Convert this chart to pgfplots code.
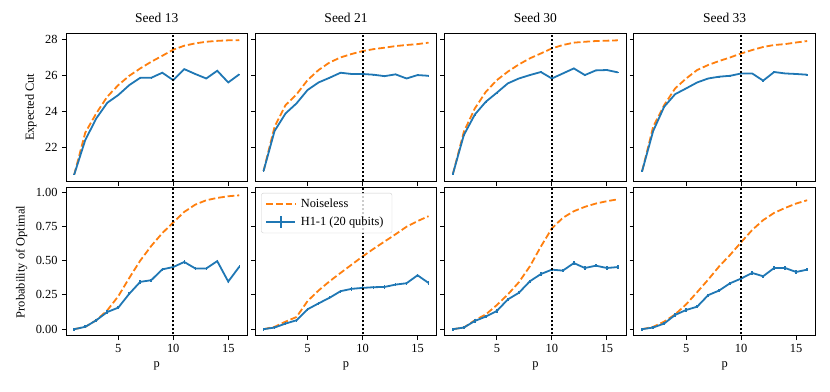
\documentclass[border=0pt]{standalone}
\usepackage{pgfplots}
\pgfplotsset{compat=1.18}
\usepackage{pgfplotstable}
\usepgfplotslibrary{groupplots}
\usepackage{fontspec}
\setmainfont{Liberation Serif}

\definecolor{mblue}{HTML}{1F77B4}
\definecolor{morange}{HTML}{FF7F0E}

% columns: p, noiseless cut, H1-1 cut, noiseless prob, H1-1 prob
\pgfplotstableread{
p cutN cutH probN probH
1 20.48 20.48 0.000 0.000
2 22.80 22.39 0.017 0.017
3 23.87 23.59 0.065 0.065
4 24.80 24.46 0.137 0.125
5 25.44 24.89 0.240 0.157
6 25.96 25.44 0.373 0.258
7 26.37 25.85 0.500 0.345
8 26.74 25.85 0.607 0.357
9 27.07 26.13 0.700 0.436
10 27.41 25.72 0.778 0.453
11 27.63 26.33 0.855 0.490
12 27.76 26.06 0.908 0.443
13 27.85 25.81 0.940 0.443
14 27.90 26.24 0.957 0.496
15 27.93 25.59 0.969 0.347
16 27.94 26.04 0.976 0.455
}\seedA

\pgfplotstableread{
p cutN cutH probN probH
1 20.67 20.67 0.000 0.000
2 23.13 22.89 0.017 0.012
3 24.33 23.87 0.055 0.041
4 24.93 24.43 0.089 0.065
5 25.72 25.17 0.205 0.145
6 26.28 25.59 0.282 0.188
7 26.70 25.85 0.349 0.229
8 26.98 26.13 0.410 0.277
9 27.17 26.06 0.470 0.294
10 27.33 26.06 0.530 0.301
11 27.44 26.02 0.586 0.306
12 27.52 25.94 0.639 0.308
13 27.61 26.04 0.692 0.325
14 27.67 25.81 0.747 0.335
15 27.72 26.00 0.788 0.393
16 27.80 25.96 0.824 0.337
}\seedB

\pgfplotstableread{
p cutN cutH probN probH
1 20.50 20.50 0.000 0.000
2 22.85 22.67 0.012 0.012
3 24.15 23.81 0.065 0.060
4 25.07 24.52 0.108 0.092
5 25.72 25.02 0.176 0.133
6 26.19 25.54 0.253 0.217
7 26.59 25.81 0.342 0.265
8 26.93 26.00 0.458 0.349
9 27.20 26.17 0.602 0.402
10 27.48 25.81 0.735 0.434
11 27.67 26.09 0.812 0.427
12 27.80 26.37 0.860 0.482
13 27.85 26.00 0.892 0.446
14 27.89 26.26 0.916 0.463
15 27.91 26.28 0.933 0.446
16 27.93 26.15 0.947 0.453
}\seedC

\pgfplotstableread{
p cutN cutH probN probH
1 20.67 20.67 0.000 0.000
2 23.13 22.89 0.017 0.012
3 24.33 24.24 0.055 0.041
4 25.26 24.94 0.108 0.104
5 25.81 25.26 0.181 0.140
6 26.28 25.59 0.270 0.164
7 26.56 25.81 0.361 0.248
8 26.78 25.91 0.458 0.282
9 26.98 25.96 0.542 0.335
10 27.20 26.09 0.634 0.369
11 27.39 26.09 0.723 0.410
12 27.56 25.69 0.795 0.386
13 27.67 26.17 0.848 0.446
14 27.72 26.09 0.884 0.446
15 27.81 26.06 0.916 0.417
16 27.89 26.02 0.940 0.434
}\seedD

\pgfplotsset{
  noisy/.style={mblue, line width=1.8pt,
    error bars/y dir=both, error bars/y fixed=#1,
    error bars/error mark=none,
    error bars/error bar style={line width=1.5pt}},
  ideal/.style={morange, line width=1.8pt, dash pattern=on 6.7pt off 2.9pt},
  vline/.style={black, line width=2pt, dash pattern=on 2pt off 2pt, forget plot},
  toprow/.style={ymin=20.1, ymax=28.32, ytick={22,24,26,28}},
  botrow/.style={ymin=-0.049, ymax=1.03, ytick={0,0.25,0.5,0.75,1},
    yticklabel style={/pgf/number format/.cd, fixed, fixed zerofill, precision=2}},
}

\begin{document}
\fontsize{12.4}{15}\selectfont
\begin{tikzpicture}
\begin{groupplot}[
    group style={group size=4 by 2, horizontal sep=7.8pt, vertical sep=6.6pt,
      xticklabels at=edge bottom, yticklabels at=edge left},
    scale only axis, width=181.5pt, height=148pt,
    xmin=0.25, xmax=16.75, xtick={5,10,15},
    tick pos=left, tick align=outside, major tick length=4.2pt,
    axis line style={line width=0.9pt},
    every tick/.style={black, line width=0.9pt},
    /pgf/number format/assume math mode=true,
    every axis label/.append style={font=\fontsize{12.4}{15}\selectfont},
    every tick label/.append style={font=\fontsize{12.4}{15}\selectfont},
    title style={font=\fontsize{13.5}{16}\selectfont},
    legend image code/.code={\draw[#1] (0pt,0pt) -- (29pt,0pt);},
]
\nextgroupplot[toprow, title={Seed 13}, ylabel={Expected Cut}]
\addplot[ideal] table[x=p, y=cutN]{\seedA};
\addplot[noisy=0.03] table[x=p, y=cutH]{\seedA};
\addplot[vline] coordinates {(10,19) (10,30)};

\nextgroupplot[toprow, title={Seed 21}]
\addplot[ideal] table[x=p, y=cutN]{\seedB};
\addplot[noisy=0.03] table[x=p, y=cutH]{\seedB};
\addplot[vline] coordinates {(10,19) (10,30)};

\nextgroupplot[toprow, title={Seed 30}]
\addplot[ideal] table[x=p, y=cutN]{\seedC};
\addplot[noisy=0.03] table[x=p, y=cutH]{\seedC};
\addplot[vline] coordinates {(10,19) (10,30)};

\nextgroupplot[toprow, title={Seed 33}]
\addplot[ideal] table[x=p, y=cutN]{\seedD};
\addplot[noisy=0.03] table[x=p, y=cutH]{\seedD};
\addplot[vline] coordinates {(10,19) (10,30)};

\nextgroupplot[botrow, xlabel={p}, ylabel={Probability of Optimal}]
\addplot[ideal] table[x=p, y=probN]{\seedA};
\addplot[noisy=0.012] table[x=p, y=probH]{\seedA};
\addplot[vline] coordinates {(10,-1) (10,2)};

\nextgroupplot[botrow, xlabel={p},
    legend style={at={(0,1)}, anchor=north west, xshift=6pt, yshift=-5pt,
      draw=black!20, rounded corners=2pt, fill=white, fill opacity=0.8,
      text opacity=1, row sep=3pt, inner xsep=4pt, inner ysep=4pt,
      nodes={font=\fontsize{12.4}{15}\selectfont, inner xsep=4.5pt}},
    legend cell align=left]
\addplot[ideal] table[x=p, y=probN]{\seedB};
\addlegendentry{Noiseless}
\addplot[noisy=0.012, legend image code/.code={
    \draw[mblue, line width=1.8pt] (0pt,0pt) -- (29pt,0pt);
    \draw[mblue, line width=1.5pt] (14.5pt,-6pt) -- (14.5pt,6pt);}]
  table[x=p, y=probH]{\seedB};
\addlegendentry{H1-1 (20 qubits)}
\addplot[vline] coordinates {(10,-1) (10,2)};

\nextgroupplot[botrow, xlabel={p}]
\addplot[ideal] table[x=p, y=probN]{\seedC};
\addplot[noisy=0.012] table[x=p, y=probH]{\seedC};
\addplot[vline] coordinates {(10,-1) (10,2)};

\nextgroupplot[botrow, xlabel={p}]
\addplot[ideal] table[x=p, y=probN]{\seedD};
\addplot[noisy=0.012] table[x=p, y=probH]{\seedD};
\addplot[vline] coordinates {(10,-1) (10,2)};
\end{groupplot}
% page frame with the reference's margins
\path (group c1r1.north west) ++(-66pt,33.3pt) rectangle ++(830pt,-391pt);
\end{tikzpicture}
\end{document}
